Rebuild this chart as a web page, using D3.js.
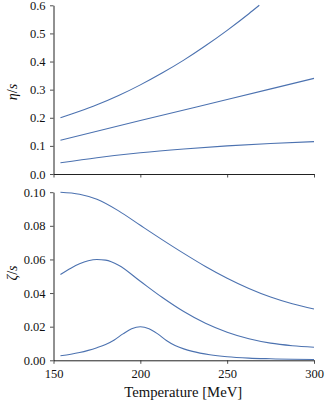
<!DOCTYPE html>
<html><head><meta charset="utf-8">
<script src="https://cdn.jsdelivr.net/npm/d3@7"></script>
</head>
<body style="margin:0;background:#fff"><svg id="c" width="325" height="402"></svg>
<script>
// ---- data ----
const xTicks = [150, 200, 250, 300];
const etaTicks = [0.0, 0.1, 0.2, 0.3, 0.4, 0.5, 0.6];
const zetaTicks = [0.00, 0.02, 0.04, 0.06, 0.08, 0.10];

const etaHighT = [154, 165, 175, 187.5, 200, 212.5, 225, 237.5, 250, 262.5, 268.5];
const etaHigh  = [0.200, 0.223, 0.246, 0.279, 0.317, 0.359, 0.405, 0.456, 0.511, 0.570, 0.600];

const etaMidT = [154, 200, 250, 300];
const etaMid  = [0.120, 0.190, 0.265, 0.340];

const etaLowT = [154, 175, 200, 225, 250, 275, 300];
const etaLow  = [0.040, 0.058, 0.0755, 0.089, 0.100, 0.1085, 0.115];

const zetaHighT = [154, 165, 175, 187.5, 200, 212.5, 225, 237.5, 250, 262.5, 275, 287.5, 300];
const zetaHigh  = [0.1000, 0.0988, 0.0958, 0.0889, 0.0803, 0.0718, 0.0636, 0.0558, 0.0488, 0.0427, 0.0376, 0.0336, 0.0305];

const zetaMidT = [154, 160, 165, 170, 175, 180, 187.5, 200, 212.5, 225, 237.5, 250, 262.5, 275, 287.5, 300];
const zetaMid  = [0.0510, 0.0548, 0.0574, 0.0592, 0.0600, 0.0596, 0.0566, 0.0470, 0.0375, 0.0290, 0.0220, 0.0167, 0.0128, 0.0102, 0.0087, 0.0078];

const zetaLowT = [154, 160, 165, 170, 175, 180, 185, 190, 195, 200, 205, 210, 215, 220, 225, 230, 240, 250, 262.5, 275, 287.5, 300];
const zetaLow  = [0.0027, 0.0036, 0.0046, 0.0059, 0.0075, 0.0094, 0.0121, 0.0157, 0.0188, 0.0200, 0.0188, 0.0157, 0.0118, 0.0088, 0.0068, 0.0053, 0.0033, 0.0021, 0.0013, 0.0009, 0.0006, 0.0005];

// ---- layout ----
const svg = d3.select("#c");
const X0 = 53.5, X1 = 314;
const x = d3.scaleLinear().domain([150, 300]).range([X0, X1]);
const yTop = d3.scaleLinear().domain([0, 0.6]).range([174, 5.3]);
const yBot = d3.scaleLinear().domain([0, 0.1]).range([360.3, 192.2]);
const blue = "#4c72b0";
const FONT = '"Liberation Serif"';

function panel(y, ticks, fmt, series, showXLabels) {
  const g = svg.append("g");
  const ya = g.append("g").attr("transform", `translate(${X0},0)`)
    .call(d3.axisLeft(y).tickValues(ticks).tickFormat(d3.format(fmt)).tickSize(3.5).tickSizeOuter(0).tickPadding(4.5));
  const xa = g.append("g").attr("transform", `translate(0,${y(0)})`)
    .call(d3.axisBottom(x).tickValues(xTicks).tickSize(3.5).tickSizeOuter(0).tickPadding(5)
      .tickFormat(showXLabels ? d3.format("d") : () => ""));
  [ya, xa].forEach(a => {
    a.attr("font-family", FONT).attr("font-size", 12.5);
    a.select(".domain").attr("stroke", "#222").attr("stroke-width", 1);
    a.selectAll(".tick line").attr("stroke", "#222").attr("stroke-width", 0.8);
    a.selectAll("text").attr("font-size", 12.5).attr("fill", "#111").attr("font-family", FONT);
  });
  const line = d3.line().x(d => x(d[0])).y(d => y(d[1])).curve(d3.curveMonotoneX);
  series.forEach(([T, v]) => {
    g.append("path").datum(T.map((t, i) => [t, v[i]]))
      .attr("d", line).attr("fill", "none").attr("stroke", blue).attr("stroke-width", 1.1);
  });
  return g;
}

panel(yTop, etaTicks, ".1f", [[etaHighT, etaHigh], [etaMidT, etaMid], [etaLowT, etaLow]], false);
panel(yBot, zetaTicks, ".2f", [[zetaHighT, zetaHigh], [zetaMidT, zetaMid], [zetaLowT, zetaLow]], true);

// y labels
function ylab(cy, sym) {
  const t = svg.append("text").attr("transform", `translate(17,${cy}) rotate(-90)`)
    .attr("text-anchor", "middle").attr("font-size", 14).attr("fill", "#111").attr("font-family", FONT);
  t.append("tspan").attr("font-style", "italic").text(sym);
  t.append("tspan").text("/");
  t.append("tspan").attr("font-style", "italic").text("s");
}
ylab(92, "η");
ylab(273, "ζ");

svg.append("text").attr("x", (X0 + X1) / 2 - 0.5).attr("y", 396.5).attr("text-anchor", "middle")
  .attr("font-size", 14).attr("fill", "#111").attr("font-family", FONT)
  .attr("textLength", 118).attr("lengthAdjust", "spacingAndGlyphs")
  .text("Temperature [MeV]");
</script></body></html>
